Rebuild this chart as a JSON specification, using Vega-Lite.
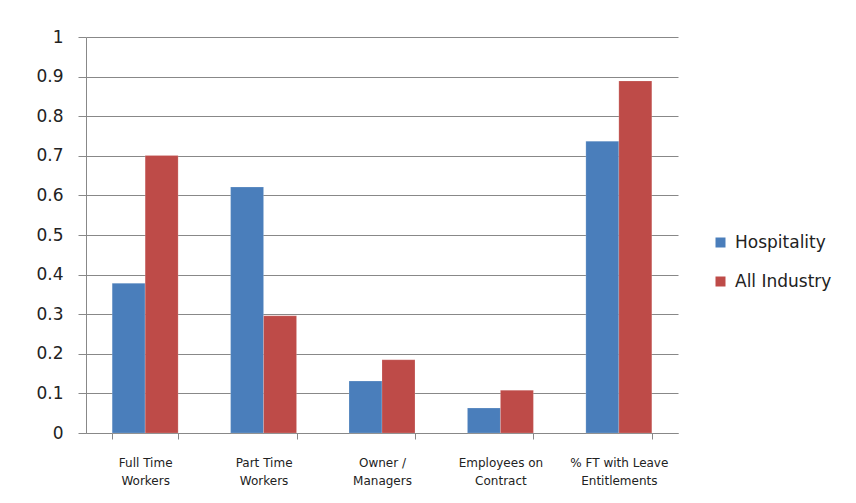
{
  "$schema": "https://vega.github.io/schema/vega-lite/v6.json",
  "width": 592,
  "height": 396,
  "autosize": "none",
  "padding": {"left": 86, "top": 37, "right": 178, "bottom": 70},
  "background": "white",
  "data": {
    "values": [
      {"category": "Full Time Workers", "series": "Hospitality", "value": 0.378},
      {"category": "Full Time Workers", "series": "All Industry", "value": 0.701},
      {"category": "Part Time Workers", "series": "Hospitality", "value": 0.621},
      {"category": "Part Time Workers", "series": "All Industry", "value": 0.296},
      {"category": "Owner / Managers", "series": "Hospitality", "value": 0.131},
      {"category": "Owner / Managers", "series": "All Industry", "value": 0.185},
      {"category": "Employees on Contract", "series": "Hospitality", "value": 0.063},
      {"category": "Employees on Contract", "series": "All Industry", "value": 0.108},
      {"category": "% FT with Leave Entitlements", "series": "Hospitality", "value": 0.737},
      {"category": "% FT with Leave Entitlements", "series": "All Industry", "value": 0.889}
    ]
  },
  "mark": {"type": "bar", "stroke": "white", "strokeOpacity": 0.35, "strokeWidth": 0.5},
  "encoding": {
    "x": {
      "field": "category",
      "type": "nominal",
      "sort": null,
      "scale": {"paddingInner": 0.443, "paddingOuter": 0.221},
      "axis": {
        "title": null,
        "labelAngle": 0,
        "labelFont": "DejaVu Sans",
        "labelFontSize": 12,
        "labelColor": "#222222",
        "labelLineHeight": 18,
        "labelPadding": 18,
        "labelExpr": "{'Full Time Workers':['Full Time','Workers'],'Part Time Workers':['Part Time','Workers'],'Owner / Managers':['Owner /','Managers'],'Employees on Contract':['Employees on','Contract'],'% FT with Leave Entitlements':['% FT with Leave','Entitlements']}[datum.value]",
        "tickBand": "extent",
        "tickSize": 6,
        "tickColor": "#888888",
        "domainColor": "#888888",
        "grid": false
      }
    },
    "xOffset": {
      "field": "series",
      "type": "nominal",
      "sort": ["Hospitality", "All Industry"],
      "scale": {"paddingInner": 0, "paddingOuter": 0}
    },
    "y": {
      "field": "value",
      "type": "quantitative",
      "scale": {"domain": [0, 1], "nice": false},
      "axis": {
        "title": null,
        "values": [0, 0.1, 0.2, 0.3, 0.4, 0.5, 0.6, 0.7, 0.8, 0.9, 1],
        "format": "~g",
        "labelFont": "DejaVu Sans",
        "labelFontSize": 17,
        "labelColor": "#222222",
        "labelPadding": 15,
        "tickSize": 8,
        "tickColor": "#888888",
        "domainColor": "#888888",
        "gridColor": "#888888",
        "gridWidth": 1
      }
    },
    "color": {
      "field": "series",
      "type": "nominal",
      "sort": ["Hospitality", "All Industry"],
      "scale": {"domain": ["Hospitality", "All Industry"], "range": ["#4A7EBB", "#BE4B48"]},
      "legend": {
        "title": null,
        "orient": "none",
        "legendX": 626,
        "legendY": 197,
        "symbolType": "square",
        "symbolSize": 100,
        "symbolStrokeWidth": 0,
        "labelFont": "DejaVu Sans",
        "labelFontSize": 17,
        "labelColor": "#222222",
        "labelOffset": 6,
        "rowPadding": 21
      }
    }
  },
  "config": {
    "view": {"stroke": null}
  }
}
